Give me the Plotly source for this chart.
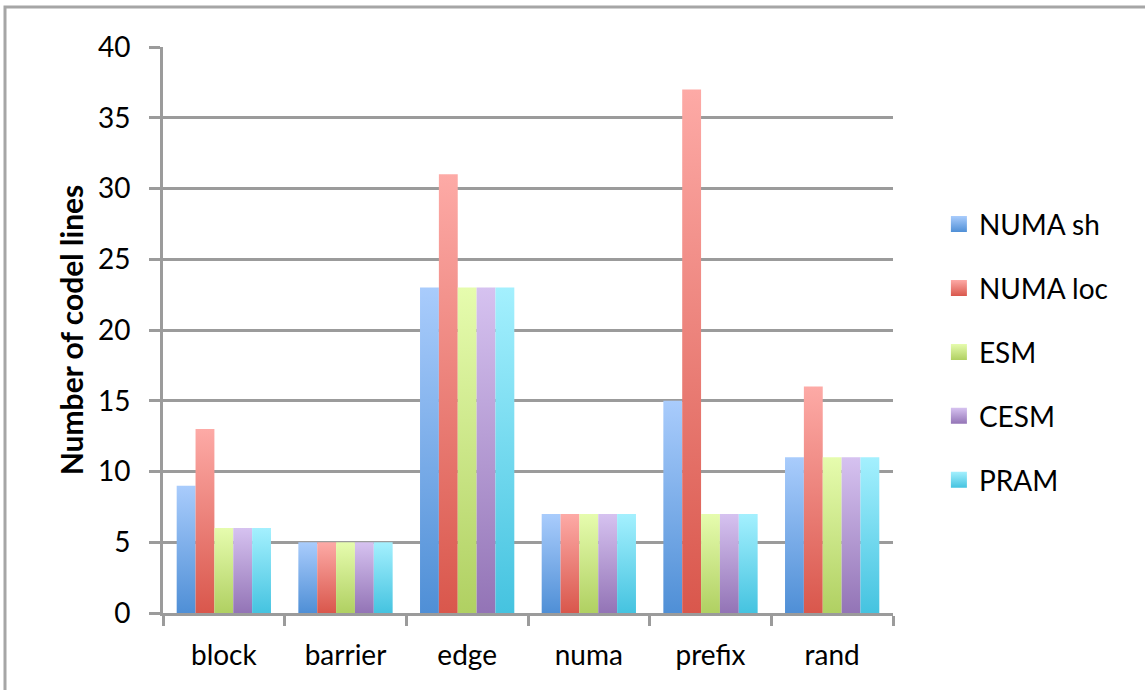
import plotly.graph_objects as go

# Number of code lines per benchmark and memory model
categories = ["block", "barrier", "edge", "numa", "prefix", "rand"]
numa_sh = [9, 5, 23, 7, 15, 11]
numa_loc = [13, 5, 31, 7, 37, 16]
esm = [6, 5, 23, 7, 7, 11]
cesm = [6, 5, 23, 7, 7, 11]
pram = [6, 5, 23, 7, 7, 11]

series_names = ["NUMA sh", "NUMA loc", "ESM", "CESM", "PRAM"]
series_values = [numa_sh, numa_loc, esm, cesm, pram]
# (top colour, bottom colour) of each series' vertical gradient
series_colors = [
    ("#a9ccfc", "#4f8fd6"),
    ("#fdaaa6", "#d9574c"),
    ("#e6fcae", "#b0d062"),
    ("#d6c2f0", "#9374b6"),
    ("#a4f0fe", "#45c3e0"),
]

FONT = "Lato, 'Open Sans', sans-serif"
GRID = "#9b9b9b"

group_fill = 0.775  # share of each category slot covered by its bars
bar_w = group_fill / len(series_names)

fig = go.Figure()

# one filled polygon per bar so every bar carries its own top-to-bottom gradient
for j, (name, vals, (top, bottom)) in enumerate(zip(series_names, series_values, series_colors)):
    for i, v in enumerate(vals):
        x0 = i - group_fill / 2 + j * bar_w
        x1 = x0 + bar_w
        fig.add_trace(go.Scatter(
            x=[x0, x0, x1, x1, x0],
            y=[0, v, v, 0, 0],
            mode="lines",
            fill="toself",
            line=dict(width=0),
            fillgradient=dict(type="vertical", colorscale=[[0, bottom], [1, top]]),
            showlegend=False,
            hoverinfo="text",
            text=f"{categories[i]} – {name}: {v}",
        ))

# legend entries with gradient swatches
for j, (name, (top, bottom)) in enumerate(zip(series_names, series_colors)):
    fig.add_trace(go.Scatter(
        x=[None], y=[None],
        mode="markers",
        name=name,
        legendgroup=name,
        marker=dict(symbol="square", size=16, color=top,
                    gradient=dict(type="vertical", color=bottom),
                    line=dict(width=0)),
        showlegend=True,
    ))

n = len(categories)
fig.update_layout(
    width=1145,
    height=690,
    margin=dict(l=163, r=252, t=47, b=77),
    paper_bgcolor="white",
    plot_bgcolor="white",
    font=dict(family=FONT, size=28, color="#000000"),
    showlegend=True,
    legend=dict(
        xref="container", yref="container",
        x=0.82, y=0.49, xanchor="left", yanchor="middle",
        font=dict(family=FONT, size=28, color="#000000"),
        tracegroupgap=24.5,
        itemsizing="trace",
        bgcolor="rgba(0,0,0,0)",
    ),
    xaxis=dict(
        range=[-0.5, n - 0.5],
        tickmode="array",
        tickvals=list(range(n)),
        ticktext=categories,
        ticks="",
        ticklabelstandoff=15,
        showgrid=False,
        zeroline=False,
        showline=True,
        linecolor=GRID,
        linewidth=3,
        minor=dict(
            tickmode="array",
            tickvals=[k - 0.5 for k in range(n + 1)],
            ticks="outside",
            ticklen=10,
            tickwidth=3,
            tickcolor=GRID,
            showgrid=False,
        ),
        fixedrange=True,
    ),
    yaxis=dict(
        range=[0, 40],
        tickmode="linear",
        tick0=0,
        dtick=5,
        ticks="outside",
        ticklen=11,
        tickwidth=3,
        tickcolor=GRID,
        ticklabelstandoff=13,
        showgrid=True,
        gridcolor=GRID,
        gridwidth=3,
        zeroline=False,
        showline=True,
        linecolor=GRID,
        linewidth=3,
        title=dict(text="<b>Number of codel lines</b>",
                   font=dict(family=FONT, size=30, color="#000000"),
                   standoff=6),
        fixedrange=True,
    ),
    shapes=[
        # chart frame
        dict(type="rect", xref="paper", yref="paper",
             x0=(5 - 163) / 730, x1=1.6, y0=-0.4, y1=(613 - 7) / 566,
             line=dict(color="#a6a6a6", width=3), fillcolor="rgba(0,0,0,0)",
             layer="below"),
    ],
)

fig.write_html("out.html")
